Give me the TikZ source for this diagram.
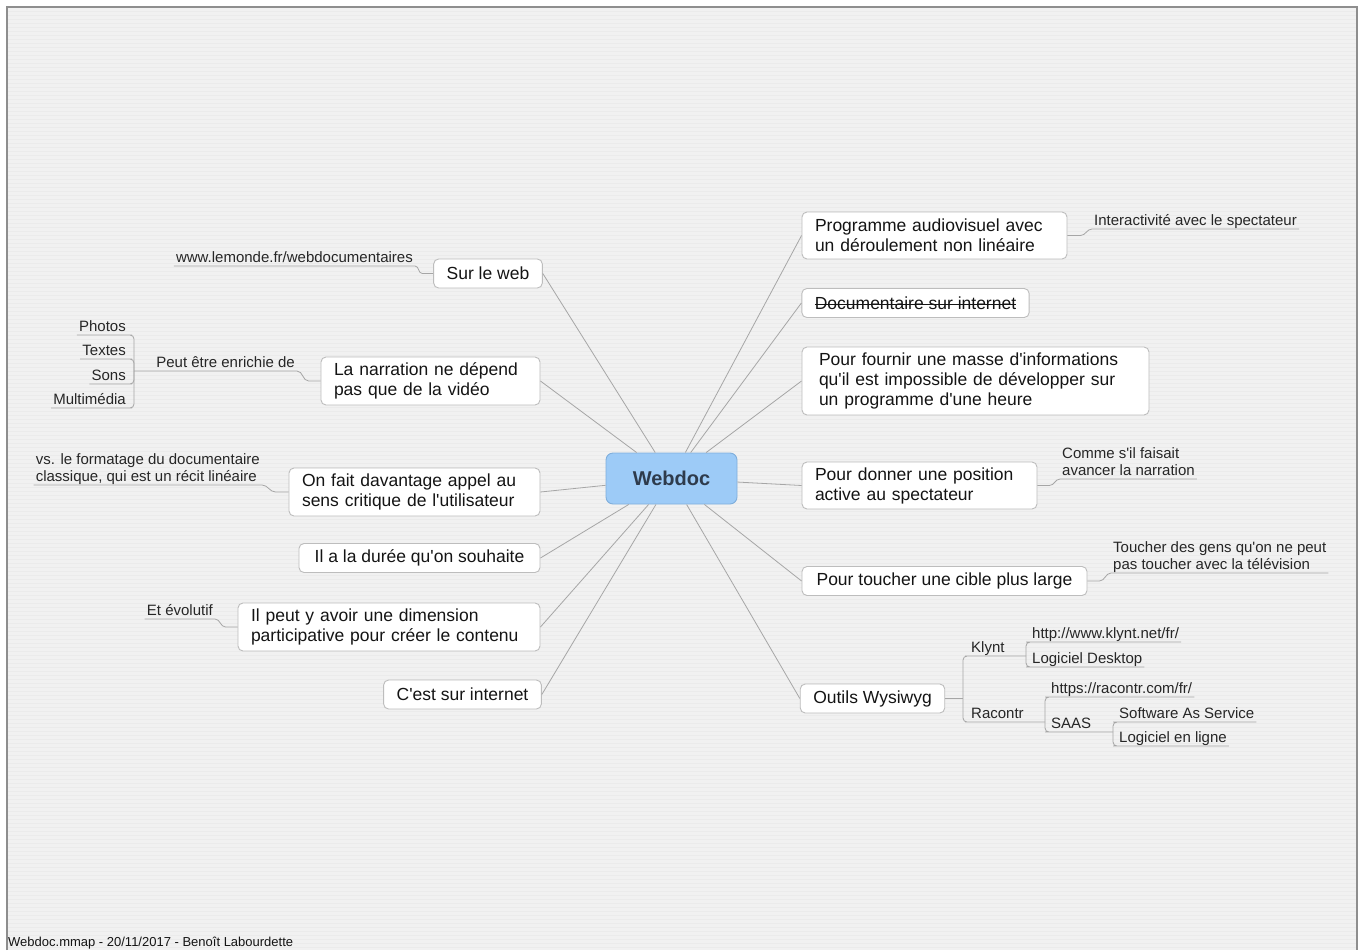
\documentclass[tikz,border=0pt]{standalone}
\usepackage{fontspec}
\setmainfont{Liberation Sans}
\newfontfamily\lsans{Liberation Sans}
\newcommand{\strk}[1]{\setbox0\hbox{#1}\rlap{\rule[0.27em]{\wd0}{0.9pt}}\box0}
\newcommand{\mfont}{\lsans\fontsize{17.5}{20}\selectfont}
\newcommand{\lfont}{\lsans\fontsize{15}{17}\selectfont}
\newcommand{\ffont}{\lsans\fontsize{13}{15}\selectfont}
\newcommand{\ud}{\rule[-3.5pt]{0pt}{3.5pt}}
\definecolor{bg}{HTML}{F1F1F1}
\definecolor{stripec}{HTML}{EBEBEB}
\definecolor{framec}{HTML}{8E8E8E}
\definecolor{boxline}{HTML}{BDBDBD}
\definecolor{connc}{HTML}{A6A6A6}
\definecolor{txt}{HTML}{141414}
\definecolor{leaftxt}{HTML}{262626}
\definecolor{hubfill}{HTML}{9DCBF7}
\definecolor{hubline}{HTML}{7FAEDB}
\definecolor{hubtxt}{HTML}{2E3B4C}
\begin{document}
\begin{tikzpicture}[x=1pt,y=-1pt,
  box/.style={draw=boxline, fill=white, rounded corners=5pt, line width=0.9pt,
    font=\mfont, text=txt, inner xsep=13pt, inner ysep=5pt, minimum height=29pt},
  mbox/.style={box, align=left},
  hub/.style={draw=hubline, fill=hubfill, rounded corners=7pt, line width=0.9pt,
    minimum width=131pt, minimum height=51pt, text=hubtxt,
    font=\lsans\fontsize{20}{24}\selectfont\bfseries},
  leaf/.style={font=\lfont, text=leaftxt, inner xsep=2pt, inner ysep=0pt},
  mleaf/.style={leaf, align=left},
  conn/.style={draw=connc, line width=0.8pt},
  bconn/.style={conn, rounded corners=4pt},
  stripe/.style={draw=stripec, line width=0.6pt},
  foot/.style={font=\ffont, text=txt, inner sep=0pt}
]
\useasboundingbox (0,0) rectangle (1367,950);
\fill[white] (0,0) rectangle (1367,950);
\fill[bg] (7,7) rectangle (1357,950);
\foreach \yy in {11,15,...,947} \draw[stripe] (8,\yy) -- (1356,\yy);
\draw[framec, line width=1.8pt] (7,950) -- (7,7) -- (1357,7) -- (1357,950);

% central topic
\node[hub] (wd) at (671.5,478.5) {Webdoc};

% left main topics
\node[box, minimum width=104pt] (sweb) at (488,273.5) {Sur le web};
\node[mbox, text width=193pt, minimum height=48pt] (narr) at (430.5,381) {La narration ne dépend\\pas que de la vidéo};
\node[mbox, text width=225pt, minimum height=48pt] (onfait) at (414.5,492) {On fait davantage appel au\\sens critique de l'utilisateur};
\node[box, minimum width=241pt] (duree) at (419.5,558) {Il a la durée qu'on souhaite};
\node[mbox, text width=276pt, minimum height=48pt] (peut) at (389,627) {Il peut y avoir une dimension\\participative pour créer le contenu};
\node[box, minimum width=155pt] (cest) at (462.5,694.5) {C'est sur internet};

% right main topics
\node[mbox, text width=239pt, minimum height=47pt] (prog) at (934.5,235.5) {Programme audiovisuel avec\\un déroulement non linéaire};
\node[box, minimum width=227pt] (docu) at (915.5,303) {\strk{Documentaire sur internet}};
\node[mbox, inner xsep=17pt, text width=313pt, minimum height=68pt] (fourn) at (975.5,381) {Pour fournir une masse d'informations\\qu'il est impossible de développer sur\\un programme d'une heure};
\node[mbox, text width=209pt, minimum height=47pt] (donner) at (919.5,485.5) {Pour donner une position\\active au spectateur};
\node[box, minimum width=285pt] (touch) at (944.5,581) {Pour toucher une cible plus large};
\node[box, minimum width=141pt] (outils) at (872.5,698.5) {Outils Wysiwyg};

% connectors from the central topic
\foreach \n in {sweb,narr,onfait,duree,peut,cest} \draw[conn] (wd) -- (\n.east);
\foreach \n in {prog,docu,fourn,donner,touch,outils} \draw[conn] (wd) -- (\n.west);

% left leaves
\node[leaf, anchor=south east] (lemonde) at (415,266) {www.lemonde.fr/webdocumentaires\ud};
\draw[conn] (sweb.west) -- ++(-11,0) to[out=180,in=0] (lemonde.south east) -- (lemonde.south west);

\node[leaf, anchor=south east] (pe) at (297,371) {Peut être enrichie de\ud};
\coordinate (br) at (134,371);
\draw[conn] (narr.west) -- ++(-12,0) to[out=180,in=0] (pe.south east) -- (pe.south west) -- (br);
\node[leaf, anchor=south east] (photos) at (128,335) {Photos\ud};
\node[leaf, anchor=south east] (textes) at (128,359) {Textes\ud};
\node[leaf, anchor=south east] (sons) at (128,384) {Sons\ud};
\node[leaf, anchor=south east] (multi) at (128,408) {Multimédia\ud};
\draw[bconn] (photos.south west) -- (photos.south east) -| (br) |- (multi.south east) -- (multi.south west);
\draw[bconn] (textes.south west) -- (textes.south east) -| (br);
\draw[bconn] (sons.south west) -- (sons.south east) -| (br);

\node[mleaf, anchor=south east] (vs) at (262,485) {vs. le formatage du documentaire\\classique, qui est un récit linéaire\ud};
\draw[conn] (onfait.west) -- ++(-13,0) to[out=180,in=0] (vs.south east) -- (vs.south west);

\node[leaf, anchor=south east] (evol) at (215,619) {Et évolutif\ud};
\draw[conn] (peut.west) -- ++(-12,0) to[out=180,in=0] (evol.south east) -- (evol.south west);

% right leaves
\node[leaf, anchor=south west] (inter) at (1092,229) {Interactivité avec le spectateur\ud};
\draw[conn] (prog.east) -- ++(13,0) to[out=0,in=180] (inter.south west) -- (inter.south east);

\node[mleaf, anchor=south west] (comme) at (1060,479) {Comme s'il faisait\\avancer la narration\ud};
\draw[conn] (donner.east) -- ++(12,0) to[out=0,in=180] (comme.south west) -- (comme.south east);

\node[mleaf, anchor=south west] (toucher) at (1111,573) {Toucher des gens qu'on ne peut\\pas toucher avec la télévision\ud};
\draw[conn] (touch.east) -- ++(12,0) to[out=0,in=180] (toucher.south west) -- (toucher.south east);

% tools subtree
\coordinate (ob) at (963,698.5);
\coordinate (kb) at (1026,656);
\coordinate (rb) at (1045,722);
\coordinate (sb) at (1113,732);
\node[leaf, anchor=south west] (klynt) at (969,656) {Klynt\ud};
\node[leaf, anchor=south west] (racontr) at (969,722) {Racontr\ud};
\draw[conn] (outils.east) -- (ob);
\draw[bconn] (kb) -- (klynt.south west) -| (ob) |- (racontr.south west) -- (rb);

\node[leaf, anchor=south west] (http) at (1030,642) {http://www.klynt.net/fr/\ud};
\node[leaf, anchor=south west] (ld) at (1030,667) {Logiciel Desktop\ud};
\draw[bconn] (http.south east) -- (http.south west) -| (kb) |- (ld.south west) -- (ld.south east);

\node[leaf, anchor=south west] (https) at (1049,697) {https://racontr.com/fr/\ud};
\node[leaf, anchor=south west] (saas) at (1049,732) {SAAS\ud};
\draw[bconn] (https.south east) -- (https.south west) -| (rb) |- (saas.south west) -- (sb);

\node[leaf, anchor=south west] (sas) at (1117,722) {Software As Service\ud};
\node[leaf, anchor=south west] (lel) at (1117,746) {Logiciel en ligne\ud};
\draw[bconn] (sas.south east) -- (sas.south west) -| (sb) |- (lel.south west) -- (lel.south east);

% footer
\node[foot, anchor=base west] (footer) at (8,946) {Webdoc.mmap - 20/11/2017 - Benoît Labourdette};
\end{tikzpicture}
\end{document}
